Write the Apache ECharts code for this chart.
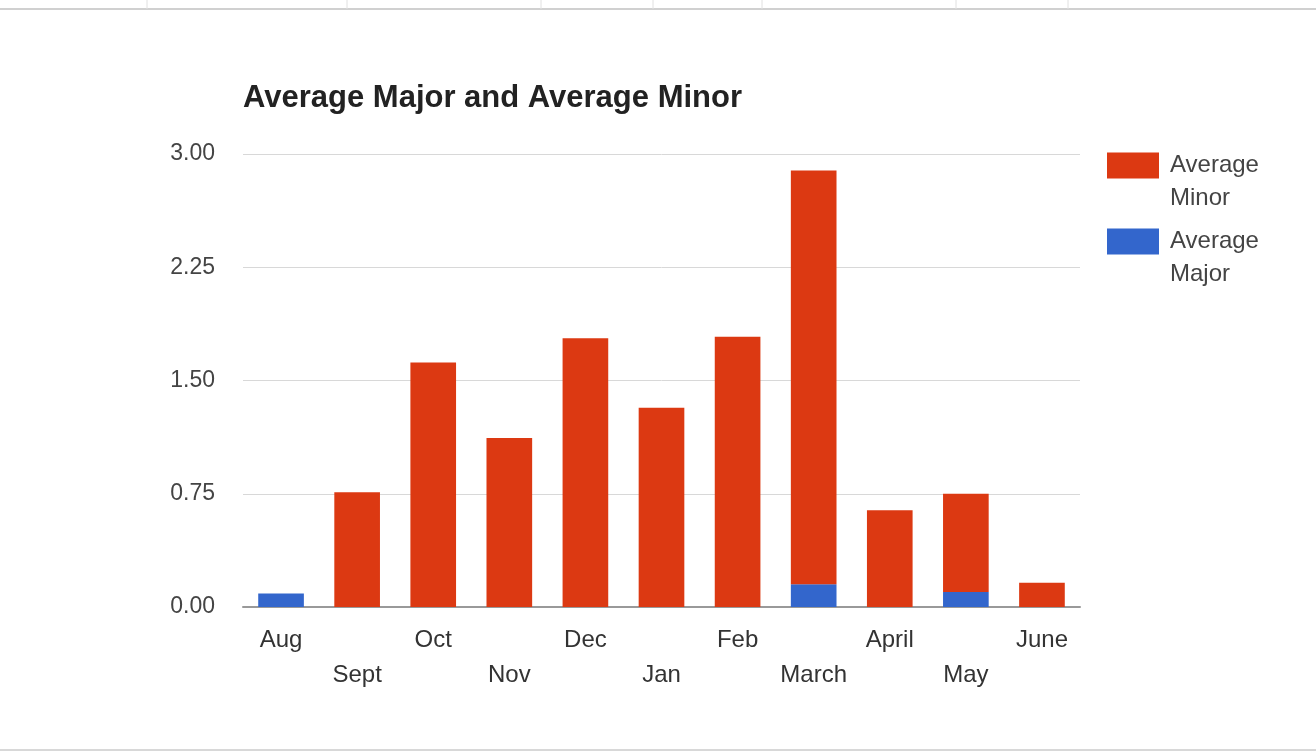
<!DOCTYPE html>
<html>
<head>
<meta charset="utf-8">
<title>Average Major and Average Minor</title>
<script src="https://cdn.jsdelivr.net/npm/echarts@6/dist/echarts.min.js"></script>
<style>
    html, body { margin: 0; padding: 0; background: #fff; }
    #chart { width: 1316px; height: 752px; }
</style>
</head>
<body>
<div id="chart"></div>
<script>
// months along the x axis
const months = ['Aug', 'Sept', 'Oct', 'Nov', 'Dec', 'Jan', 'Feb', 'March', 'April', 'May', 'June'];
// stacked values, major at the bottom
const avgMajor = [0.09, 0, 0, 0, 0, 0, 0, 0.15, 0, 0.10, 0];
const avgMinor = [0, 0.76, 1.62, 1.12, 1.78, 1.32, 1.79, 2.74, 0.64, 0.65, 0.16];
const yTicks = [0, 0.75, 1.5, 2.25, 3];

// spreadsheet cell borders round the chart
const colLines = [147, 347, 541, 653, 762, 956, 1068];

let myChart = echarts.init(document.getElementById('chart'));

let cellBorders = [
    { type: 'line', shape: { x1: 0, y1: 9, x2: 1316, y2: 9 }, style: { stroke: '#d0d0d0', lineWidth: 2 } },
    { type: 'line', shape: { x1: 0, y1: 750, x2: 1316, y2: 750 }, style: { stroke: '#d8d8d8', lineWidth: 2 } }
];
colLines.forEach(x => {
    cellBorders.push({ type: 'line', shape: { x1: x, y1: 0, x2: x, y2: 9 }, style: { stroke: '#e0e0e0', lineWidth: 1 } });
});

// legend labels wrap onto two lines, first line level with the swatch
const legendText = {
    fontFamily: 'Liberation Sans',
    fontSize: 24,
    color: '#444',
    lineHeight: 33,
    padding: [0, 0, 0, 6]
};

let option = {
    animation: false,
    textStyle: { fontFamily: 'Liberation Sans' },
    graphic: cellBorders,
    title: {
        text: 'Average Major and Average Minor',
        left: 238,
        top: 78,
        textStyle: {
            fontFamily: 'Liberation Sans',
            fontSize: 31,
            fontWeight: 'bold',
            color: '#222'
        }
    },
    legend: [
        {
            data: ['Average Minor'],
            left: 1102,
            top: 111,
            orient: 'vertical',
            icon: 'rect',
            itemWidth: 52,
            itemHeight: 26,
            formatter: () => '\nAverage\nMinor',
            textStyle: legendText
        },
        {
            data: ['Average Major'],
            left: 1102,
            top: 187,
            orient: 'vertical',
            icon: 'rect',
            itemWidth: 52,
            itemHeight: 26,
            formatter: () => '\nAverage\nMajor',
            textStyle: legendText
        }
    ],
    grid: {
        left: 243,
        right: 236,
        top: 154,
        bottom: 145
    },
    xAxis: {
        type: 'category',
        data: months,
        axisTick: { show: false },
        axisLine: { lineStyle: { color: '#999', width: 2 } },
        axisLabel: {
            interval: 0,
            margin: 16,
            fontSize: 24,
            lineHeight: 35,
            color: '#333',
            formatter: (v, i) => (i % 2 === 1 ? '\n' + v : v)
        }
    },
    yAxis: {
        type: 'value',
        min: yTicks[0],
        max: yTicks[yTicks.length - 1],
        interval: 0.75,
        axisLine: { show: false },
        axisTick: { show: false },
        splitLine: { lineStyle: { color: '#d8d8d8', width: 1 } },
        axisLabel: {
            margin: 28,
            fontSize: 23,
            color: '#444',
            formatter: v => v.toFixed(2)
        }
    },
    series: [
        {
            name: 'Average Major',
            type: 'bar',
            stack: 'total',
            barWidth: '60%',
            data: avgMajor,
            itemStyle: { color: '#3366cc' }
        },
        {
            name: 'Average Minor',
            type: 'bar',
            stack: 'total',
            barWidth: '60%',
            data: avgMinor,
            itemStyle: { color: '#dc3912' }
        }
    ]
};
myChart.setOption(option);
</script>
</body>
</html>
